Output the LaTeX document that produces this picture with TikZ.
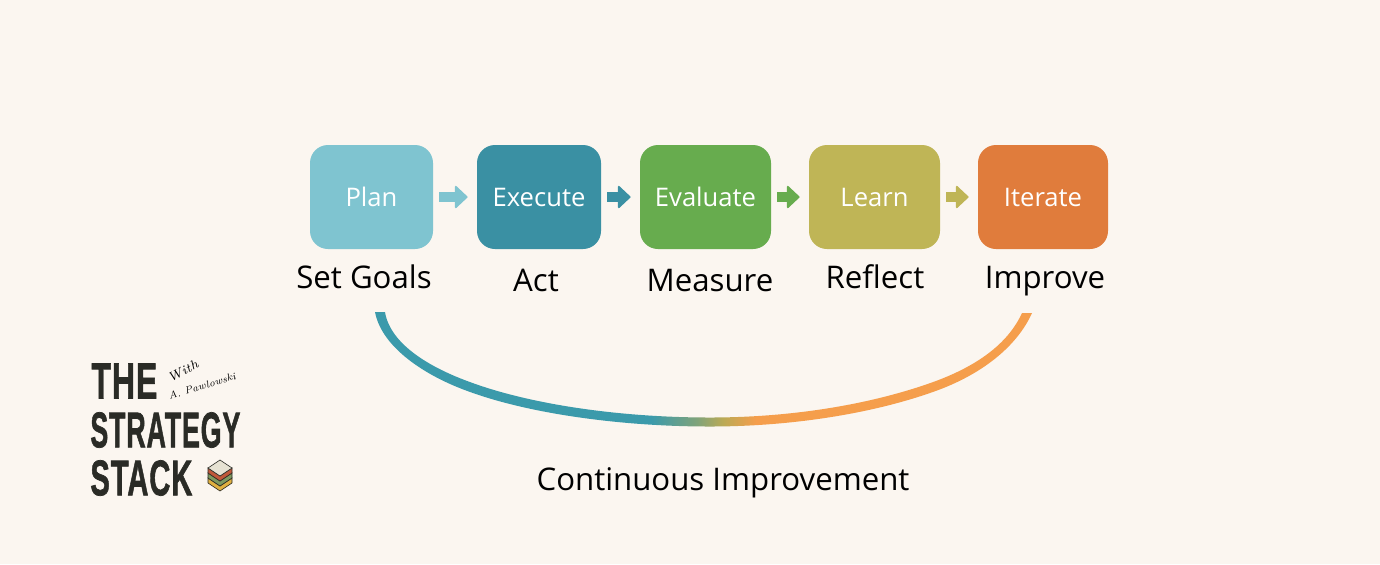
\documentclass[tikz,border=0pt]{standalone}
\usepackage{fontspec}
\usepackage{graphicx}
\usetikzlibrary{shapes,positioning,calc,arrows,arrows.meta}
\newfontfamily\labelfont{Open Sans}
\newfontfamily\logofont{Liberation Sans}[BoldFont={Liberation Sans Bold},BoldFeatures={FakeBold=1.5,LetterSpace=3}]
\definecolor{bgcream}{HTML}{FBF6F0}
\definecolor{plancol}{HTML}{7FC4D0}
\definecolor{execcol}{HTML}{3A90A3}
\definecolor{evalcol}{HTML}{67AC4E}
\definecolor{learncol}{HTML}{BFB556}
\definecolor{itercol}{HTML}{E07C3C}
\definecolor{logoink}{HTML}{2A2B26}
\definecolor{arcteal}{HTML}{3B9AAB}
\definecolor{arcmid}{HTML}{7FA37A}
\definecolor{arcolive}{HTML}{BBAA55}
\definecolor{arcorange}{HTML}{F59E4C}
\pgfdeclarehorizontalshading{arcshade}{100bp}{
    color(0bp)=(arcteal);
    color(46bp)=(arcteal);
    color(49.5bp)=(arcmid);
    color(51.5bp)=(arcolive);
    color(54bp)=(arcorange);
    color(100bp)=(arcorange)}
\tikzset{
    stepbox/.style={rounded corners=9pt,minimum height=52pt,inner sep=0pt,text height=9pt,text depth=0pt,
        text=white,font=\labelfont\fontsize{12.8}{15}\selectfont},
    steplabel/.style={inner sep=0pt,anchor=base,text=black,font=\labelfont\fontsize{15.6}{18}\selectfont},
    steparrow/.style={line width=5pt,shorten <=3pt,shorten >=4.5pt,
        -{Triangle[length=6.5pt,width=12pt,line width=0.8pt,round]}},
    logoline/.style={inner sep=0pt,text=logoink,anchor=west},
    signline/.style={inner sep=0pt,text=black,font=\itshape\fontsize{6.4}{7}\selectfont}
}
\begin{document}
\begin{tikzpicture}[x=0.5pt,y=-0.5pt]
    \fill[bgcream] (0,0) rectangle (1380,564);
    \useasboundingbox (0,0) rectangle (1380,564);

    % process boxes
    \foreach \name/\txt/\col/\xc/\w in {plan/Plan/plancol/371.5/61.5,exec/Execute/execcol/539/62,
        eval/Evaluate/evalcol/705.5/65.5,learn/Learn/learncol/874.5/65.5,iter/Iterate/itercol/1043/65}
    {
        \node[stepbox,fill=\col,minimum width=\w pt] (\name) at (\xc,197) {\txt};
    }

    % arrows between them
    \foreach \a/\b/\col in {plan/exec/plancol,exec/eval/execcol,eval/learn/evalcol,learn/iter/learncol}
    {
        \draw[steparrow,\col] (\a) -- (\b);
    }

    % labels under the boxes
    \node[steplabel] (goals) at (364,288) {Set Goals};
    \node[steplabel] (act) at (536,291) {Act};
    \node[steplabel] (measure) at (710,291) {Measure};
    \node[steplabel] (reflect) at (875,288) {Reflect};
    \node[steplabel] (improve) at (1045,288) {Improve};

    % feedback arc
    \shade[shading=arcshade] (375,312) .. controls (381.8,348) and (426.5,376.4) .. (468.5,391.4)
        .. controls (528.5,413.5) and (620,426.5) .. (710,426.5)
        .. controls (790,426.5) and (871.5,414) .. (934.5,391.4)
        .. controls (979.5,375.4) and (1016.2,348) .. (1032,313)
        -- (1022,313) .. controls (1007.8,344) and (976.5,366.6) .. (931.5,382.6)
        .. controls (868.5,405) and (790,417.5) .. (710,417.5)
        .. controls (620,417.5) and (531.5,404.5) .. (471.5,382.6)
        .. controls (429.5,367.6) and (390.2,344) .. (385,312) -- cycle;
    \node[steplabel] (loop) at (723,490) {Continuous Improvement};

    % logo
    \node[logoline] (the) at (91,381) {\resizebox{33pt}{17.5pt}{\logofont\bfseries THE}};
    \node[logoline] (strategy) at (90,430) {\resizebox{75pt}{17.5pt}{\logofont\bfseries STRATEGY}};
    \node[logoline] (stack) at (90,478) {\resizebox{51pt}{17.5pt}{\logofont\bfseries STACK}};
    \node[signline,rotate=28] (with) at (183,371) {With};
    \node[signline,rotate=17,font=\itshape\fontsize{5}{6}\selectfont] (author) at (202,386) {A. Pawlowski};

    % stack icon
    \foreach \col/\dy in {E0B040/10,7E9A60/5,C0583A/0}
    {
        \definecolor{layercol}{HTML}{\col}
        \fill[layercol,draw=logoink,line width=0.3pt] (208,468+\dy) -- (220,476+\dy) -- (232,468+\dy)
            -- (232,473+\dy) -- (220,481+\dy) -- (208,473+\dy) -- cycle;
    }
    \definecolor{layertop}{HTML}{E6E2D3}
    \fill[layertop,draw=logoink,line width=0.3pt] (220,460) -- (232,468) -- (220,476) -- (208,468) -- cycle;

\end{tikzpicture}
\end{document}
